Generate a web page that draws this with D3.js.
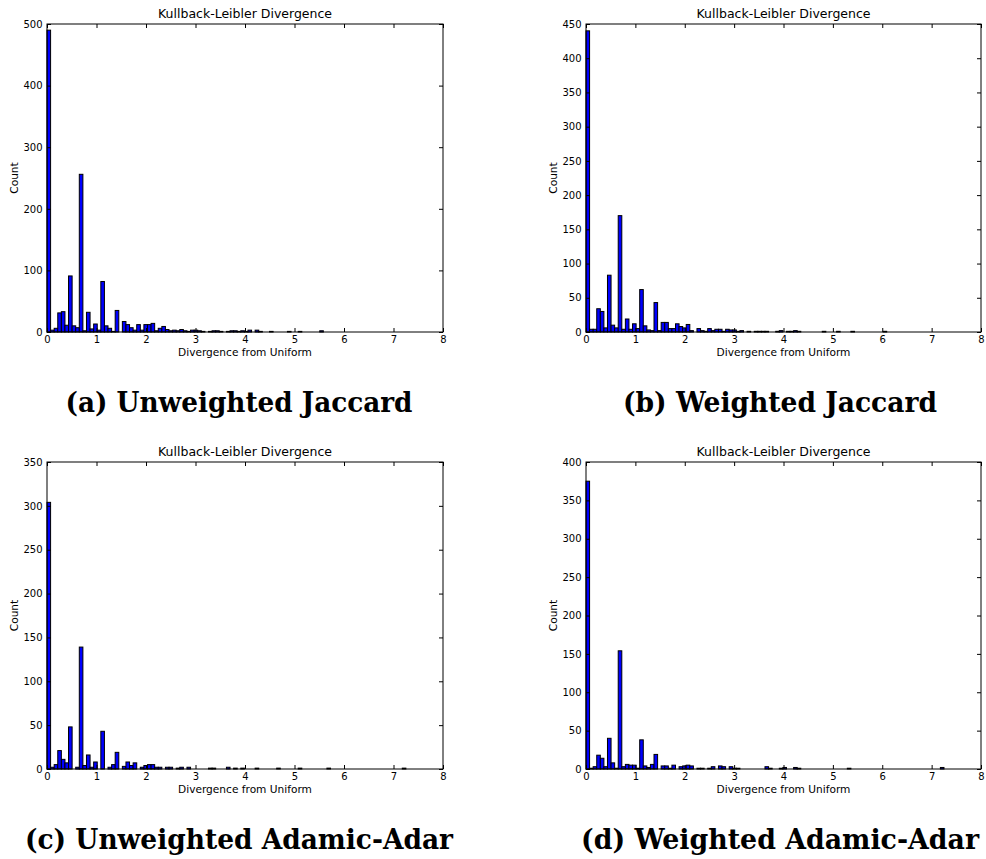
<!DOCTYPE html>
<html>
<head>
<meta charset="utf-8">
<script src="https://cdn.jsdelivr.net/npm/d3@7/dist/d3.min.js"></script>
<style>
  body { margin: 0; background: #fff; }
  svg { display: block; }
  text { font-family: "DejaVu Sans", sans-serif; fill: #000; }
  .caption { font-family: "DejaVu Serif", serif; font-weight: bold; }
</style>
</head>
<body>
<svg id="chart" width="986" height="859"></svg>
<script>
// histogram bins: 100 bins of equal width starting at 0
var binStart = 0;
var binWidth = 0.0725;

var unweightedJaccard = [
  490, 3, 6, 31, 33, 11, 91, 10, 7, 256, 2, 32, 5, 13, 3, 82, 10, 6, 1, 35,
  0, 17, 12, 7, 3, 12, 3, 12, 12, 14, 2, 6, 9, 4, 2, 3, 2, 4, 2, 1,
  3, 3, 2, 1, 0, 1, 2, 2, 1, 0, 1, 2, 2, 1, 2, 1, 3, 0, 3, 1,
  0, 0, 1, 0, 0, 0, 0, 1, 0, 0, 1, 0, 0, 0, 0, 0, 2, 0, 0, 0,
  0, 0, 0, 0, 0, 0, 0, 0, 0, 0, 0, 0, 0, 0, 0, 0, 0, 0, 0, 0
];
var weightedJaccard = [
  440, 4, 4, 34, 30, 6, 83, 10, 6, 170, 4, 19, 4, 12, 5, 62, 9, 3, 2, 43,
  2, 14, 14, 5, 5, 12, 8, 6, 11, 2, 0, 5, 2, 1, 5, 2, 4, 4, 1, 4,
  3, 3, 1, 2, 0, 1, 0, 1, 1, 1, 1, 0, 0, 1, 2, 0, 1, 1, 2, 1,
  0, 0, 0, 0, 0, 0, 1, 0, 0, 0, 1, 0, 0, 0, 1, 0, 0, 0, 0, 0,
  0, 0, 0, 1, 0, 0, 0, 0, 0, 0, 0, 0, 0, 0, 0, 0, 0, 0, 0, 0
];
var unweightedAdamicAdar = [
  304, 2, 5, 21, 11, 7, 48, 0, 2, 139, 4, 16, 2, 8, 0, 43, 0, 2, 5, 19,
  0, 3, 8, 4, 7, 0, 2, 4, 5, 5, 2, 2, 0, 2, 2, 0, 1, 2, 0, 2,
  0, 0, 0, 0, 0, 1, 1, 0, 0, 0, 2, 0, 1, 0, 1, 0, 0, 0, 1, 0,
  0, 0, 0, 0, 1, 0, 0, 0, 0, 0, 1, 0, 0, 0, 0, 0, 0, 0, 1, 0,
  0, 0, 0, 0, 0, 0, 0, 0, 0, 0, 0, 0, 0, 0, 0, 0, 0, 0, 0, 1
];
var weightedAdamicAdar = [
  375, 1, 3, 18, 14, 3, 40, 8, 1, 154, 3, 6, 5, 5, 1, 38, 4, 2, 6, 19,
  0, 4, 4, 1, 5, 0, 3, 4, 5, 4, 0, 1, 1, 0, 1, 3, 0, 4, 3, 0,
  3, 1, 1, 0, 0, 0, 0, 0, 0, 0, 3, 1, 0, 0, 1, 2, 0, 0, 2, 1,
  0, 0, 0, 0, 0, 0, 0, 0, 0, 0, 0, 0, 0, 1, 0, 0, 0, 0, 0, 0,
  0, 0, 0, 0, 0, 0, 0, 0, 0, 0, 0, 0, 0, 0, 0, 0, 0, 0, 0, 2
];

var xTicks = [0, 1, 2, 3, 4, 5, 6, 7, 8];
var yMaxes = [500, 450, 350, 400];
var yTickSteps = [100, 50, 50, 50];
var captions = ['(a) Unweighted Jaccard', '(b) Weighted Jaccard',
                '(c) Unweighted Adamic-Adar', '(d) Weighted Adamic-Adar'];
var series = [unweightedJaccard, weightedJaccard, unweightedAdamicAdar, weightedAdamicAdar];

var boxes = [
  { left: 47, top: 24, right: 443, bottom: 332, capX: 239, capY: 412, capW: 347 },
  { left: 586, top: 24, right: 981, bottom: 332, capX: 780, capY: 412, capW: 314 },
  { left: 47, top: 462, right: 443, bottom: 769, capX: 239, capY: 849, capW: 428 },
  { left: 586, top: 462, right: 981, bottom: 769, capX: 780, capY: 849, capW: 398 }
];

var svg = d3.select('#chart');
svg.append('rect').attr('width', 986).attr('height', 859).attr('fill', '#fff');

series.forEach(function(counts, k) {
    var b = boxes[k];
    var x = d3.scaleLinear().domain([0, 8]).range([b.left, b.right]);
    var y = d3.scaleLinear().domain([0, yMaxes[k]]).range([b.bottom, b.top]);
    var g = svg.append('g');

    var bins = counts.map(function(c, i) {
        return { x0: binStart + i * binWidth, x1: binStart + (i + 1) * binWidth, count: c };
    });

    g.selectAll('rect.bar')
        .data(bins)
        .enter()
        .append('rect')
        .attr('class', 'bar')
        .attr('x', function(d) { return x(d.x0); })
        .attr('width', function(d) { return x(d.x1) - x(d.x0); })
        .attr('y', function(d) { return y(d.count); })
        .attr('height', function(d) { return y(0) - y(d.count); })
        .attr('fill', '#0000ff')
        .attr('stroke', '#000')
        .attr('stroke-width', 1);

    var yTicks = d3.range(0, yMaxes[k] + 1, yTickSteps[k]);

    // ticks point inward on all four sides
    g.append('g')
        .attr('transform', 'translate(0,' + b.bottom + ')')
        .call(d3.axisBottom(x).tickValues(xTicks).tickSize(-4).tickPadding(3.5).tickFormat(d3.format('d')));
    g.append('g')
        .attr('transform', 'translate(0,' + b.top + ')')
        .call(d3.axisTop(x).tickValues(xTicks).tickSize(-4).tickFormat(''));
    g.append('g')
        .attr('transform', 'translate(' + b.left + ',0)')
        .call(d3.axisLeft(y).tickValues(yTicks).tickSize(-4).tickPadding(4.5).tickFormat(d3.format('d')));
    g.append('g')
        .attr('transform', 'translate(' + b.right + ',0)')
        .call(d3.axisRight(y).tickValues(yTicks).tickSize(-4).tickFormat(''));

    g.selectAll('.domain').remove();
    g.selectAll('.tick line').attr('stroke', '#000');
    g.selectAll('.tick text')
        .style('font-family', '"DejaVu Sans", sans-serif')
        .style('font-size', '10px')
        .attr('fill', '#000');

    g.append('rect')
        .attr('x', b.left).attr('y', b.top)
        .attr('width', b.right - b.left).attr('height', b.bottom - b.top)
        .attr('fill', 'none').attr('stroke', '#000').attr('stroke-width', 1);

    var cx = (b.left + b.right) / 2;
    g.append('text')
        .attr('x', cx).attr('y', b.top - 6)
        .attr('text-anchor', 'middle')
        .style('font-size', '12.5px')
        .text('Kullback-Leibler Divergence');
    g.append('text')
        .attr('x', cx).attr('y', b.bottom + 24)
        .attr('text-anchor', 'middle')
        .style('font-size', '10.6px')
        .text('Divergence from Uniform');
    g.append('text')
        .attr('transform', 'translate(' + (b.left - 29) + ',' + ((b.top + b.bottom) / 2) + ') rotate(-90)')
        .attr('text-anchor', 'middle')
        .style('font-size', '10.6px')
        .text('Count');

    svg.append('text')
        .attr('class', 'caption')
        .attr('x', b.capX).attr('y', b.capY)
        .attr('text-anchor', 'middle')
        .attr('textLength', b.capW)
        .attr('lengthAdjust', 'spacingAndGlyphs')
        .style('font-size', '27px')
        .text(captions[k]);
});
</script>
</body>
</html>
